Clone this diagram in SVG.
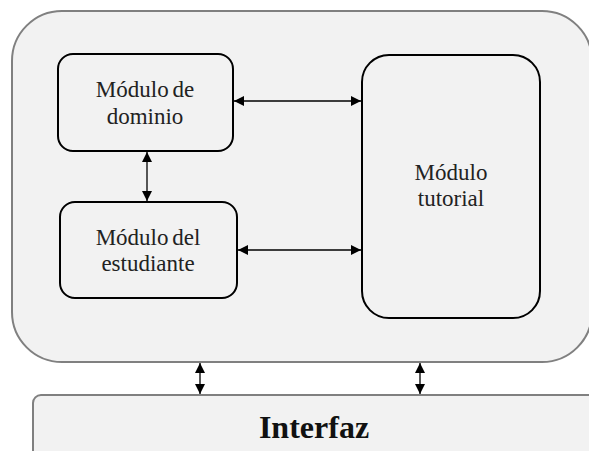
<svg xmlns="http://www.w3.org/2000/svg" width="589" height="451" viewBox="0 0 589 451">
<defs>
<marker id="ah" viewBox="0 0 10 10" refX="10" refY="5" markerWidth="10" markerHeight="10" markerUnits="userSpaceOnUse" orient="auto-start-reverse">
<path d="M0,0 L10,5 L0,10 Z" fill="#000"/>
</marker>
</defs>
<style>
.outer{fill:#f2f2f2;stroke:#808080;stroke-width:2}
.mod{fill:#f2f2f2;stroke:#000;stroke-width:2}
.lbl{font-family:"Liberation Serif","Times New Roman",serif;font-size:23px;fill:#222;text-anchor:middle}
.big{font-family:"Liberation Serif","Times New Roman",serif;font-size:32px;font-weight:bold;fill:#111;text-anchor:middle}
.conn{stroke:#000;stroke-width:1.3;fill:none;marker-start:url(#ah);marker-end:url(#ah)}
</style>
<rect width="589" height="451" fill="#fff"/>
<g id="container">
<rect class="outer" x="12" y="11" width="580" height="351" rx="50" ry="50"/>
</g>
<g id="interfaz">
<rect class="outer" x="33" y="395" width="570" height="80" rx="8" ry="8"/>
<text class="big" x="314" y="438">Interfaz</text>
</g>
<g id="dominio">
<rect class="mod" x="58" y="54" width="175" height="97" rx="15" ry="15"/>
<text class="lbl" x="145" y="97" word-spacing="-2">Módulo de</text>
<text class="lbl" x="145" y="124">dominio</text>
</g>
<g id="estudiante">
<rect class="mod" x="60" y="202" width="177" height="96" rx="15" ry="15"/>
<text class="lbl" x="148" y="245" word-spacing="-2">Módulo del</text>
<text class="lbl" x="148" y="271">estudiante</text>
</g>
<g id="tutorial">
<rect class="mod" x="362" y="55" width="178" height="263" rx="27" ry="27"/>
<text class="lbl" x="451" y="180">Módulo</text>
<text class="lbl" x="451" y="206">tutorial</text>
</g>
<g id="connectors">
<line class="conn" x1="234" y1="101" x2="361" y2="101"/>
<line class="conn" x1="238" y1="250" x2="361" y2="250"/>
<line class="conn" x1="147" y1="152" x2="147" y2="201"/>
<line class="conn" x1="200" y1="363" x2="200" y2="394"/>
<line class="conn" x1="420" y1="363" x2="420" y2="394"/>
</g>
</svg>
